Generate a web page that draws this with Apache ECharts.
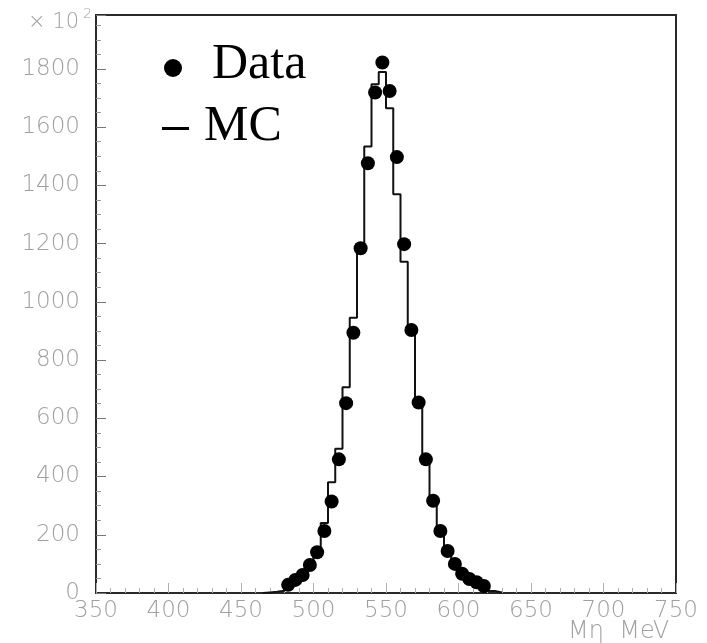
<!DOCTYPE html>
<html>
<head>
<meta charset="utf-8">
<script src="https://cdn.jsdelivr.net/npm/echarts@6/dist/echarts.min.js"></script>
<style>
html,body{margin:0;padding:0;background:#fff;}
#chart{width:707px;height:643px;}
</style>
</head>
<body>
<div id="chart"></div>
<script>
// ---- data (units of 10^2 events per 5 MeV bin) ----
var binWidth = 5;
var mcCenters = [467.5,472.5,477.5,482.5,487.5,492.5,497.5,502.5,507.5,512.5,517.5,522.5,527.5,532.5,537.5,542.5,547.5,552.5,557.5,562.5,567.5,572.5,577.5,582.5,587.5,592.5,597.5,602.5,607.5,612.5,617.5,622.5,627.5];
var mcValues  = [2,4,8,18,35,58,92,150,240,380,495,707,945,1190,1533,1747,1789,1665,1369,1138,892,657,452,308,205,138,92,62,42,28,16,7,2];
var dataCenters = [482.5,487.5,492.5,497.5,502.5,507.5,512.5,517.5,522.5,527.5,532.5,537.5,542.5,547.5,552.5,557.5,562.5,567.5,572.5,577.5,582.5,587.5,592.5,597.5,602.5,607.5,612.5,617.5];
var dataValues  = [28,45,62,96,140,213,314,459,652,894,1184,1476,1719,1822,1724,1497,1198,903,654,459,317,213,144,100,66,48,37,24];
var xTicks = [350,400,450,500,550,600,650,700,750];
var yTicks = [0,200,400,600,800,1000,1200,1400,1600,1800];

// build step histogram outline for MC
var mcLine = [[mcCenters[0]-binWidth/2, 0]];
for (var i=0;i<mcCenters.length;i++) mcLine.push([mcCenters[i]-binWidth/2, mcValues[i]]);
var lastEdge = mcCenters[mcCenters.length-1]+binWidth/2;
mcLine.push([lastEdge, mcValues[mcValues.length-1]]);
mcLine.push([lastEdge, 0]);

var dataPts = dataCenters.map(function(c,i){return [c, dataValues[i]];});

var labelStyle = {color:'#a0a0a0', fontFamily:'DejaVu Sans', fontWeight:200, fontSize:23};

var chart = echarts.init(document.getElementById('chart'), null, {renderer:'canvas'});
chart.setOption({
  backgroundColor:'#ffffff',
  animation:false,
  grid:{left:96, top:15, right:31, bottom:50, show:true, borderColor:'#2a2a2a', borderWidth:2, backgroundColor:'transparent'},
  xAxis:{
    type:'value', min:xTicks[0], max:xTicks[xTicks.length-1], interval:50,
    axisLine:{show:false},
    axisTick:{show:true, inside:true, length:10, lineStyle:{color:'#b0b0b0', width:1}},
    minorTick:{show:true, splitNumber:5, length:5, lineStyle:{color:'#b0b0b0', width:1}},
    splitLine:{show:false},
    axisLabel:Object.assign({margin:7, formatter:function(v){return xTicks.indexOf(v)>=0? String(v):'';}}, labelStyle)
  },
  yAxis:{
    type:'value', min:0, max:1985, interval:200,
    axisLine:{show:false},
    axisTick:{show:true, inside:true, length:10, lineStyle:{color:'#777', width:1}},
    minorTick:{show:true, splitNumber:4, length:5, lineStyle:{color:'#999', width:1}},
    splitLine:{show:false},
    axisLabel:Object.assign({margin:16, formatter:function(v){return yTicks.indexOf(v)>=0? String(v):'';}}, labelStyle)
  },
  series:[
    {type:'line', data:mcLine, step:'end', showSymbol:false, symbol:'none',
     lineStyle:{color:'#111', width:2}, z:2},
    {type:'scatter', data:dataPts, symbol:'circle', symbolSize:14,
     itemStyle:{color:'#000', opacity:1}, z:3}
  ],
  graphic:[
    {type:'text', left:28, top:12, style:{text:'× 10', fill:'#a0a0a0', font:'200 21px "DejaVu Sans"'}},
    {type:'text', left:83, top:7, style:{text:'2', fill:'#a0a0a0', font:'200 14px "DejaVu Sans"'}},
    {type:'circle', shape:{cx:173, cy:68, r:9}, style:{fill:'#000'}},
    {type:'text', left:212, top:40, style:{text:'Data', fill:'#000', font:'50px "Liberation Serif"'}},
    {type:'rect', shape:{x:162, y:127, width:27, height:3}, style:{fill:'#000'}},
    {type:'text', left:204, top:102, style:{text:'MC', fill:'#000', font:'50px "Liberation Serif"'}},
    {type:'text', left:568, top:620, style:{text:'Mη  MeV', fill:'#a0a0a0', font:'200 24px "DejaVu Sans"'}}
  ]
});
</script>
</body>
</html>
